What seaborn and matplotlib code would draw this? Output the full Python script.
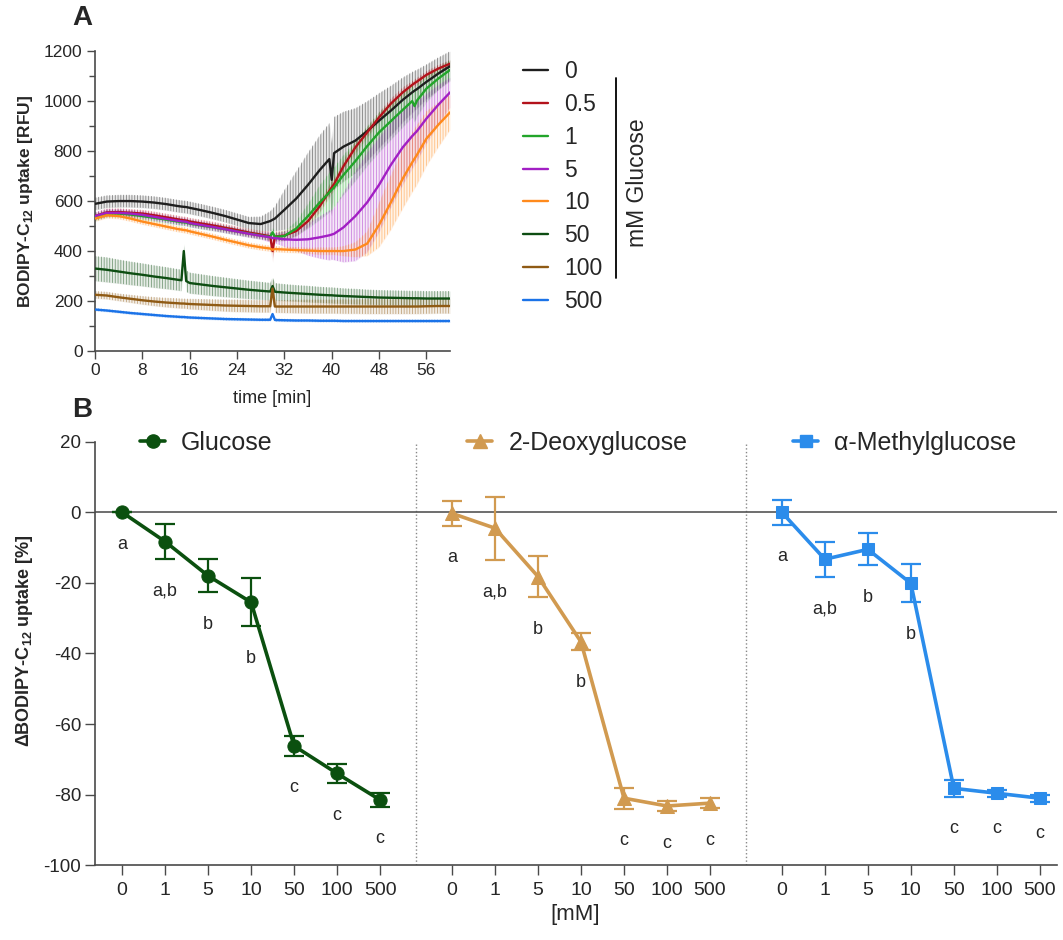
import numpy as np
import pandas as pd
import matplotlib
matplotlib.use("Agg")
import matplotlib.pyplot as plt
import seaborn as sns
from matplotlib.lines import Line2D
from matplotlib.ticker import MultipleLocator

# ---------------- data: panel A (time course, RFU) ----------------
time_min = [0, 2, 4, 6, 8, 10, 12, 14, 14.6, 15, 15.4, 16, 18, 20, 22, 24, 26, 28,
            29.6, 30, 30.4, 32, 34, 36, 38, 39.6, 40, 40.4, 42, 44, 46, 48, 50, 52,
            53.6, 54, 54.4, 56, 58, 60]

glc_labels = ["0", "0.5", "1", "5", "10", "50", "100", "500"]

mean_0 = [589, 598, 600, 600, 598, 594, 588, 580,
          578, 577, 576, 573, 563, 552, 540, 526,
          512, 508, 520, 525, 530, 565, 610, 665,
          725, 768, 685, 792, 818, 842, 880, 922,
          962, 1005, 1035, 1042, 1048, 1077, 1110, 1140]
sd_0 = [25, 25, 25, 25, 25, 25, 25, 25,
        25, 25, 25, 25, 25, 25, 25, 25,
        25, 30, 40, 45, 50, 80, 110, 130,
        140, 145, 145, 145, 140, 130, 120, 110,
        100, 90, 82, 80, 78, 70, 65, 60]

mean_05 = [540, 555, 556, 553, 550, 543, 535, 527,
           524, 523, 522, 518, 510, 502, 493, 484,
           474, 466, 459, 400, 458, 462, 480, 520,
           580, 640, 655, 668, 740, 815, 875, 935,
           990, 1035, 1065, 1072, 1078, 1105, 1130, 1150]
sd_05 = [15, 15, 15, 15, 15, 15, 15, 15,
         15, 15, 15, 15, 15, 15, 15, 15,
         15, 15, 20, 45, 20, 20, 20, 25,
         25, 25, 25, 25, 25, 25, 20, 20,
         20, 20, 15, 15, 15, 15, 15, 15]

mean_1 = [535, 550, 550, 546, 540, 533, 526, 518,
          516, 515, 514, 510, 502, 495, 487, 478,
          470, 462, 457, 475, 457, 460, 490, 540,
          595, 635, 645, 655, 705, 760, 820, 875,
          920, 965, 1000, 980, 1002, 1050, 1090, 1125]
sd_1 = [15, 15, 15, 15, 15, 15, 15, 15,
        15, 15, 15, 15, 15, 15, 15, 15,
        15, 15, 15, 20, 15, 20, 30, 50,
        70, 80, 80, 80, 80, 80, 80, 80,
        75, 70, 65, 65, 65, 55, 45, 40]

mean_5 = [540, 553, 553, 550, 545, 537, 529, 521,
          519, 518, 517, 512, 504, 496, 487, 478,
          469, 461, 455, 452, 452, 447, 445, 447,
          455, 463, 466, 469, 495, 540, 595, 665,
          745, 815, 860, 870, 880, 930, 985, 1035]
sd_5 = [15, 15, 15, 15, 15, 15, 15, 15,
        15, 15, 15, 15, 15, 15, 15, 15,
        15, 15, 20, 20, 20, 30, 45, 65,
        85, 100, 100, 105, 140, 180, 200, 190,
        170, 150, 130, 125, 120, 100, 80, 60]

mean_10 = [530, 543, 540, 530, 518, 508, 498, 488,
           486, 484, 483, 479, 468, 457, 445, 434,
           423, 415, 410, 405, 408, 406, 404, 402,
           400, 400, 400, 400, 400, 406, 430, 505,
           595, 690, 755, 770, 785, 850, 905, 955]
sd_10 = [12, 12, 12, 12, 12, 12, 12, 12,
         12, 12, 12, 12, 12, 12, 12, 12,
         12, 12, 12, 12, 12, 12, 12, 12,
         15, 15, 15, 15, 20, 30, 50, 90,
         110, 120, 120, 120, 120, 110, 90, 70]

mean_50 = [330, 325, 318, 311, 305, 298, 292, 285,
           283, 400, 280, 272, 266, 260, 255, 250,
           245, 241, 238, 260, 237, 234, 231, 228,
           225, 223, 223, 222, 220, 218, 216, 214,
           213, 212, 211, 211, 211, 210, 210, 210]
sd_50 = [50, 50, 48, 47, 46, 45, 44, 43,
         43, 30, 43, 42, 41, 40, 39, 38,
         37, 36, 35, 35, 35, 34, 33, 33,
         32, 32, 32, 32, 31, 31, 30, 30,
         30, 30, 30, 30, 30, 30, 30, 30]

mean_100 = [225, 222, 215, 209, 203, 198, 194, 191,
            190, 190, 189, 188, 186, 184, 182, 181,
            180, 179, 179, 250, 178, 178, 178, 178,
            178, 178, 178, 178, 178, 178, 178, 178,
            178, 178, 178, 178, 178, 179, 180, 180]
sd_100 = [15, 15, 15, 16, 17, 18, 19, 20,
          20, 20, 20, 21, 22, 23, 24, 25,
          25, 25, 25, 45, 25, 26, 27, 28,
          28, 28, 28, 28, 29, 29, 30, 30,
          30, 30, 30, 30, 30, 30, 30, 30]

mean_500 = [166, 162, 157, 152, 148, 144, 140, 137,
            136, 136, 135, 134, 132, 130, 128, 127,
            126, 125, 125, 148, 124, 123, 122, 122,
            121, 121, 121, 121, 120, 120, 120, 120,
            120, 120, 120, 120, 120, 120, 120, 120]
sd_500 = [6] * 40

means_a = [mean_0, mean_05, mean_1, mean_5, mean_10, mean_50, mean_100, mean_500]
sds_a = [sd_0, sd_05, sd_1, sd_5, sd_10, sd_50, sd_100, sd_500]
colors_a = ["#1e1e1e", "#b3121b", "#22a52a", "#a21fc4", "#ff8a1c",
            "#0d4d12", "#8f5a14", "#1b73e8"]

# ---------------- data: panel B (delta uptake, %) ----------------
conc_ticks = ["0", "1", "5", "10", "50", "100", "500"]

glucose_mean = [0, -8.3, -18.0, -25.5, -66.2, -74.0, -81.5]
glucose_err = [0, 5.0, 4.7, 6.8, 2.8, 2.8, 1.9]
glucose_letters = ["a", "a,b", "b", "b", "c", "c", "c"]

deoxy_mean = [-0.3, -4.5, -18.2, -36.7, -81.0, -83.2, -82.4]
deoxy_err = [3.5, 8.9, 5.9, 2.4, 3.0, 1.5, 1.5]
deoxy_letters = ["a", "a,b", "b", "b", "c", "c", "c"]

methyl_mean = [0, -13.3, -10.5, -20.1, -78.2, -79.6, -81.0]
methyl_err = [3.5, 5.0, 4.5, 5.4, 2.4, 1.0, 1.0]
methyl_letters = ["a", "a,b", "b", "b", "c", "c", "c"]

groups = [
    ("Glucose", glucose_mean, glucose_err, glucose_letters, "o", "#0b500f", 9.5),
    ("2-Deoxyglucose", deoxy_mean, deoxy_err, deoxy_letters, "^", "#d19a50", 10),
    ("\u03b1-Methylglucose", methyl_mean, methyl_err, methyl_letters, "s", "#2b8ceb", 8.5),
]

# ---------------- style ----------------
sns.set_theme(style="ticks")
plt.rcParams["font.family"] = ["Liberation Sans", "DejaVu Sans"]
plt.rcParams["axes.unicode_minus"] = False
plt.rcParams["mathtext.fontset"] = "custom"
plt.rcParams["mathtext.rm"] = "Liberation Sans"
plt.rcParams["mathtext.bf"] = "Liberation Sans:bold"
plt.rcParams["hatch.linewidth"] = 0.6
axis_col = "#4a4a4a"

fig = plt.figure(figsize=(10.63, 9.40), dpi=100)

# ============ panel A ============
axA = fig.add_axes([0.0894, 0.6266, 0.334, 0.319])

# SD bands: pale fill + dense vertical lines
for m, s, c in zip(means_a, sds_a, colors_a):
    m = np.array(m, dtype=float)
    s = np.array(s, dtype=float)
    axA.fill_between(time_min, m - s, m + s, color=c, linewidth=0,
                     alpha=0.10, zorder=1)
    axA.fill_between(time_min, m - s, m + s, facecolor="none", edgecolor=c,
                     hatch="||||||", linewidth=0, alpha=0.5, zorder=1)

rows = []
for lab, m in zip(glc_labels, means_a):
    for t, v in zip(time_min, m):
        rows.append({"time": t, "rfu": v, "conc": lab})
dfA = pd.DataFrame(rows)

sns.lineplot(data=dfA, x="time", y="rfu", hue="conc", hue_order=glc_labels,
             palette=colors_a, estimator=None, sort=False, linewidth=1.7,
             legend=False, ax=axA, zorder=3)

axA.set_xlim(0, 60)
axA.set_ylim(0, 1200)
axA.set_xticks(range(0, 57, 8))
axA.set_yticks(range(0, 1201, 200))
axA.yaxis.set_minor_locator(MultipleLocator(100))
axA.tick_params(axis="both", which="major", labelsize=12.5, length=6, width=1,
                color=axis_col, pad=3)
axA.tick_params(axis="y", which="minor", length=4, width=1, color=axis_col)
for sp in ["top", "right"]:
    axA.spines[sp].set_visible(False)
for sp in ["left", "bottom"]:
    axA.spines[sp].set_color(axis_col)
    axA.spines[sp].set_linewidth(1.2)
axA.set_xlabel("time [min]", fontsize=13, va="center")
axA.xaxis.set_label_coords(0.5, -0.157)
axA.set_ylabel("BODIPY-C$_{\\mathbf{12}}$ uptake [RFU]", fontsize=12.5,
               fontweight="bold", va="center")
axA.yaxis.set_label_coords(-0.197, 0.5)

handles_a = [Line2D([], [], color=c, lw=1.7) for c in colors_a]
fig.legend(handles_a, glc_labels, loc="upper left",
           bbox_to_anchor=(523 / 1063, 1 - 60 / 940), frameon=False,
           fontsize=16.5, handlelength=1.1, handletextpad=0.7,
           labelspacing=0.43, borderpad=0, borderaxespad=0)
fig.add_artist(Line2D([615.7 / 1063] * 2, [1 - 78 / 940, 1 - 278 / 940],
                      transform=fig.transFigure, color="black", lw=1.3))
fig.text(638 / 1063, 1 - 183 / 940, "mM Glucose", rotation=90, fontsize=16.5,
         ha="center", va="center")

# ============ panel B ============
axB = fig.add_axes([0.0894, 0.0795, 0.905, 0.4506])
step = 7.67
all_x, all_lab = [], []
legend_x = [140, 467, 793]

for g, (name, mean, err, letters, mk, col, ms) in enumerate(groups):
    xs = [i + g * step for i in range(len(conc_ticks))]
    all_x += xs
    all_lab += conc_ticks
    sns.lineplot(x=xs, y=mean, color=col, marker=mk, markersize=ms,
                 markeredgecolor=col, linewidth=2.6, ax=axB, zorder=4)
    axB.errorbar(xs, mean, yerr=err, fmt="none", ecolor=col, elinewidth=1.6,
                 capsize=7, capthick=1.6, zorder=3)
    for x, m, e, lt in zip(xs, mean, err, letters):
        axB.annotate(lt, (x, m - e), xytext=(0, -23), textcoords="offset points",
                     ha="center", va="center", fontsize=13)
    h = Line2D([], [], color=col, marker=mk, markersize=ms, lw=2.6)
    fig.legend([h], [name], loc="center left",
               bbox_to_anchor=(legend_x[g] / 1063, 1 - 443 / 940), frameon=False,
               fontsize=18, handlelength=1.0, handletextpad=0.65,
               borderpad=0, borderaxespad=0)

axB.set_xlim(-0.63, 21.74)
axB.set_ylim(-100, 20)
axB.set_xticks(all_x)
axB.set_xticklabels(all_lab)
axB.set_yticks(range(-100, 21, 20))
axB.axhline(0, color="#555555", lw=1.2, zorder=1)
axB.axvline(6 + (step - 6) / 2, color="#888888", ls=":", lw=1, zorder=0)
axB.axvline(6 + step + (step - 6) / 2, color="#888888", ls=":", lw=1, zorder=0)
axB.tick_params(axis="y", labelsize=13.5, length=7, width=1, color=axis_col, pad=3)
axB.tick_params(axis="x", labelsize=14, length=7, width=1, color=axis_col, pad=5)
for sp in ["top", "right"]:
    axB.spines[sp].set_visible(False)
for sp in ["left", "bottom"]:
    axB.spines[sp].set_color(axis_col)
    axB.spines[sp].set_linewidth(1.2)
axB.set_xlabel("[mM]", fontsize=16, va="center")
axB.xaxis.set_label_coords(0.499, -0.117)
axB.set_ylabel("\u0394BODIPY-C$_{\\mathbf{12}}$ uptake [%]", fontsize=13,
               fontweight="bold", va="center")
axB.yaxis.set_label_coords(-0.0728, 0.53)

# panel letters
fig.text(82 / 1063, 1 - 18 / 940, "A", fontsize=20, fontweight="bold",
         ha="center", va="center")
fig.text(82 / 1063, 1 - 410 / 940, "B", fontsize=20, fontweight="bold",
         ha="center", va="center")

fig.savefig("out.png", dpi=100)
